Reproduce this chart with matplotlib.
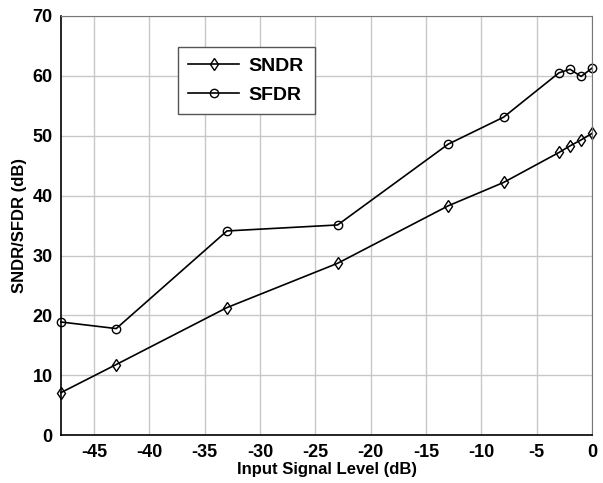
import matplotlib.pyplot as plt

plt.rcParams['font.family'] = ['Liberation Sans', 'DejaVu Sans']
plt.rcParams['font.weight'] = 'bold'
plt.rcParams['axes.unicode_minus'] = False

# input level (dB)
x = [-48, -43, -33, -23, -13, -8, -3, -2, -1, 0]
sndr = [7.1, 11.8, 21.3, 28.7, 38.3, 42.2, 47.2, 48.3, 49.3, 50.4]
sfdr = [18.9, 17.8, 34.1, 35.1, 48.6, 53.1, 60.5, 61.1, 59.9, 61.3]

xticks = [-45, -40, -35, -30, -25, -20, -15, -10, -5, 0]
yticks = [0, 10, 20, 30, 40, 50, 60, 70]

fig = plt.figure(figsize=(6.03, 4.83), dpi=100)
ax = fig.add_axes([0.101, 0.099, 0.881, 0.868])

ax.plot(x, sndr, color='black', lw=1.2, marker='d', ms=6.5, mfc='none', mec='black', mew=1.0,
        label='SNDR', clip_on=False)
ax.plot(x, sfdr, color='black', lw=1.2, marker='o', ms=6, mfc='none', mec='black', mew=1.0,
        label='SFDR', clip_on=False)

ax.set_xlim(-48, 0)
ax.set_ylim(0, 70)
ax.set_xticks(xticks)
ax.set_yticks(yticks)
ax.tick_params(labelsize=13, length=0, pad=6)
ax.grid(True, color='#c8c8c8', lw=1.0)
ax.set_axisbelow(True)
for s in ['top', 'right']:
    ax.spines[s].set_color('#777777')
for s in ['left', 'bottom']:
    ax.spines[s].set_color('black')
    ax.spines[s].set_linewidth(1.2)

ax.set_xlabel('Input Signal Level (dB)', fontsize=12, fontweight='bold', labelpad=1)
ax.set_ylabel('SNDR/SFDR (dB)', fontsize=12, fontweight='bold', labelpad=4)

leg = ax.legend(loc='upper left', bbox_to_anchor=(0.22, 0.926), borderaxespad=0,
                fontsize=14, fancybox=False, framealpha=1, edgecolor='#555555',
                handlelength=2.6, handletextpad=0.5, borderpad=0.55, labelspacing=0.55)
leg.get_frame().set_linewidth(1.0)

fig.savefig('out.png', dpi=100)
